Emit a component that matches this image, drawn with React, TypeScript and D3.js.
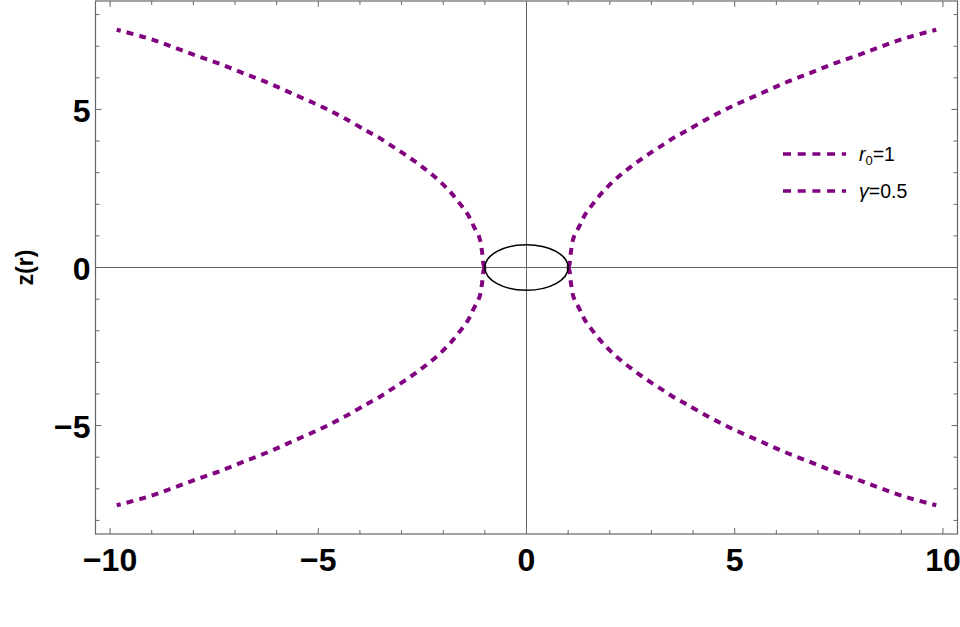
import React from "react";
import * as d3 from "d3";

// one branch of the embedding curve (r >= r0, z >= 0);
// the other three branches are its mirror images
const branchR = [1.0, 1.03, 1.07, 1.13, 1.27, 1.41, 1.6, 1.81, 2.03, 2.27, 2.52, 2.77, 3.04, 3.31, 3.57, 3.85, 4.41, 4.97, 5.57, 6.17, 6.77, 7.36, 7.95, 8.54, 9.16, 9.84];
const branchZ = [0.0, 0.09, 0.52, 0.94, 1.31, 1.68, 2.02, 2.36, 2.66, 2.94, 3.2, 3.44, 3.68, 3.91, 4.13, 4.33, 4.75, 5.12, 5.47, 5.82, 6.13, 6.44, 6.71, 7.0, 7.28, 7.52];
const signs = [
  [1, 1],
  [1, -1],
  [-1, 1],
  [-1, -1],
];

// throat ellipse (semi-axes in data units)
const throatRx = 1.0;
const throatRz = 0.72;

const xMajor = [-10, -5, 0, 5, 10];
const yMajor = [-5, 0, 5];
const xMinor = d3.range(-10, 11, 1).filter((v) => !xMajor.includes(v));
const yMinor = d3.range(-8, 9, 1).filter((v) => !yMajor.includes(v));

const legendItems = [
  { base: "r", sub: "0", rest: "=1" },
  { base: "γ", sub: "", rest: "=0.5" },
];

const W = 960;
const H = 627;
const left = 95.5;
const right = 957.5;
const top = 1;
const bottom = 534;
const purple = "#800080";
const frameColor = "#666666";
const fmt = (v: number) => (v < 0 ? "\u2212" + Math.abs(v) : String(v));

export default function App() {
  const x = d3.scaleLinear().domain([-10.35, 10.35]).range([left, right]);
  const y = d3.scaleLinear().domain([-8.43, 8.43]).range([bottom, top]);

  const line = d3
    .line<[number, number]>()
    .x((d) => x(d[0]))
    .y((d) => y(d[1]))
    .curve(d3.curveCatmullRom);

  const branches = signs.map(([sr, sz]) =>
    line(branchR.map((r, i) => [sr * r, sz * branchZ[i]] as [number, number]))
  );

  const tickFont = { fontFamily: "'Liberation Sans', Arial, sans-serif", fontWeight: 700, fontSize: 32 };

  return (
    <svg width={W} height={H} style={{ position: "absolute", left: 0, top: 0, background: "#fff" }}>
      <defs>
        <clipPath id="plot">
          <rect x={left} y={top} width={right - left} height={bottom - top} />
        </clipPath>
      </defs>

      {/* axes through the origin */}
      <line x1={left} x2={right} y1={y(0)} y2={y(0)} stroke={frameColor} strokeWidth={1} />
      <line x1={x(0)} x2={x(0)} y1={top} y2={bottom} stroke={frameColor} strokeWidth={1} />

      <g clipPath="url(#plot)">
        {branches.map((d, i) => (
          <path key={i} d={d || ""} fill="none" stroke={purple} strokeWidth={4} strokeDasharray="7,6" />
        ))}
        <ellipse
          cx={x(0)}
          cy={y(0)}
          rx={x(throatRx) - x(0)}
          ry={y(0) - y(throatRz)}
          fill="none"
          stroke="#000"
          strokeWidth={1.6}
        />
      </g>

      {/* frame */}
      <rect x={left} y={top} width={right - left} height={bottom - top} fill="none" stroke={frameColor} strokeWidth={1.2} />

      {/* ticks on all four sides */}
      <g stroke={frameColor} strokeWidth={1}>
        {xMajor.concat(xMinor).map((v) => {
          const len = xMajor.includes(v) ? 6 : 4;
          return (
            <g key={"x" + v}>
              <line x1={x(v)} x2={x(v)} y1={bottom} y2={bottom - len} />
              <line x1={x(v)} x2={x(v)} y1={top} y2={top + len} />
            </g>
          );
        })}
        {yMajor.concat(yMinor).map((v) => {
          const len = yMajor.includes(v) ? 6 : 4;
          return (
            <g key={"y" + v}>
              <line x1={left} x2={left + len} y1={y(v)} y2={y(v)} />
              <line x1={right} x2={right - len} y1={y(v)} y2={y(v)} />
            </g>
          );
        })}
      </g>

      {/* tick labels */}
      {xMajor.map((v) => (
        <text key={"xl" + v} x={x(v)} y={570.5} textAnchor="middle" style={tickFont}>
          {fmt(v)}
        </text>
      ))}
      {yMajor.map((v) => (
        <text key={"yl" + v} x={90.5} y={y(v) + 12.5} textAnchor="end" style={tickFont}>
          {fmt(v)}
        </text>
      ))}

      {/* y axis label */}
      <text
        transform={`translate(33, ${y(0)}) rotate(-90)`}
        textAnchor="middle"
        style={{ fontFamily: "'Liberation Sans', Arial, sans-serif", fontWeight: 700, fontSize: 23 }}
      >
        z(r)
      </text>

      {/* legend */}
      {legendItems.map((item, i) => {
        const ly = 154 + i * 37;
        return (
          <g key={"lg" + i}>
            <line x1={783} x2={846} y1={ly} y2={ly} stroke={purple} strokeWidth={3.3} strokeDasharray="8,6.7" />
            <text
              x={859}
              y={ly + 6.5}
              style={{ fontFamily: "'Liberation Sans', Arial, sans-serif", fontSize: 19.5 }}
            >
              <tspan fontStyle="italic">{item.base}</tspan>
              {item.sub && (
                <tspan fontSize={13} dy={4.5}>
                  {item.sub}
                </tspan>
              )}
              <tspan dy={item.sub ? -4.5 : 0}>{item.rest}</tspan>
            </text>
          </g>
        );
      })}
    </svg>
  );
}
